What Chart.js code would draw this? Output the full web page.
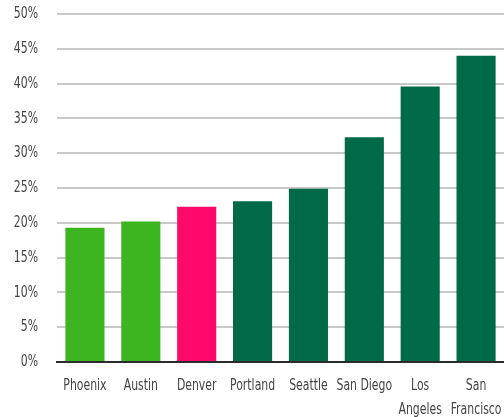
<!DOCTYPE html>
<html>
<head>
<meta charset="utf-8">
<script src="https://cdn.jsdelivr.net/npm/chart.js@4"></script>
<style>
  html, body { margin: 0; padding: 0; background: #ffffff; }
  #wrap { width: 504px; height: 417px; }
</style>
</head>
<body>
<div id="wrap"><canvas id="c" width="504" height="417"></canvas></div>
<script>
// Share of income, by city (percent)
const cities = ["Phoenix", "Austin", "Denver", "Portland", "Seattle", "San Diego", ["Los", "Angeles"], ["San", "Francisco"]];
const shares = [19.3, 20.2, 22.3, 23.1, 24.9, 32.3, 39.6, 44.0];
const yTicks = [0, 5, 10, 15, 20, 25, 30, 35, 40, 45, 50];

const LIGHT_GREEN = "#3cb521";
const PINK = "#ff0a6c";
const DARK_GREEN = "#006a48";
const barColors = cities.map((c, i) => i < 2 ? LIGHT_GREEN : (i === 2 ? PINK : DARK_GREEN));

const FONT = "'DejaVu Sans', sans-serif";
const TEXT_SQUEEZE = 0.66; // narrow, condensed-looking labels

// Draw all chart text horizontally condensed around its anchor point.
const condensedText = {
  id: "condensedText",
  beforeInit(chart) {
    const ctx = chart.ctx;
    const fill = ctx.fillText.bind(ctx);
    ctx.fillText = function (text, x, y) {
      ctx.save();
      ctx.translate(x, y);
      ctx.scale(TEXT_SQUEEZE, 1);
      fill(text, 0, 0);
      ctx.restore();
    };
  }
};

new Chart(document.getElementById("c"), {
  type: "bar",
  data: {
    labels: cities,
    datasets: [{
      data: shares,
      backgroundColor: barColors,
      borderWidth: 0,
      categoryPercentage: 1.0,
      barPercentage: 0.7
    }]
  },
  plugins: [condensedText],
  options: {
    responsive: false,
    animation: false,
    devicePixelRatio: 1,
    layout: { padding: { top: 14, right: 0, bottom: 0, left: 0 } },
    plugins: { legend: { display: false }, tooltip: { enabled: false } },
    scales: {
      x: {
        grid: { display: false, drawTicks: false },
        border: { display: true, color: "#2b2b2b", width: 2 },
        ticks: {
          color: "#444444",
          font: { family: FONT, size: 16.5, lineHeight: 1.45 },
          padding: 12,
          maxRotation: 0,
          autoSkip: false
        },
        afterFit: (axis) => { axis.height = 55; axis.paddingLeft = 0; axis.paddingRight = 0; }
      },
      y: {
        min: 0,
        max: 50,
        afterBuildTicks: (axis) => { axis.ticks = yTicks.map(v => ({ value: v })); },
        grid: { color: "#c9c9c9", lineWidth: 2, drawTicks: false },
        border: { display: false },
        ticks: {
          color: "#444444",
          font: { family: FONT, size: 16.5 },
          padding: 19,
          callback: (v) => v + "%"
        },
        afterFit: (axis) => { axis.width = 57; axis.paddingTop = 0; axis.paddingBottom = 0; }
      }
    }
  }
});
</script>
</body>
</html>
